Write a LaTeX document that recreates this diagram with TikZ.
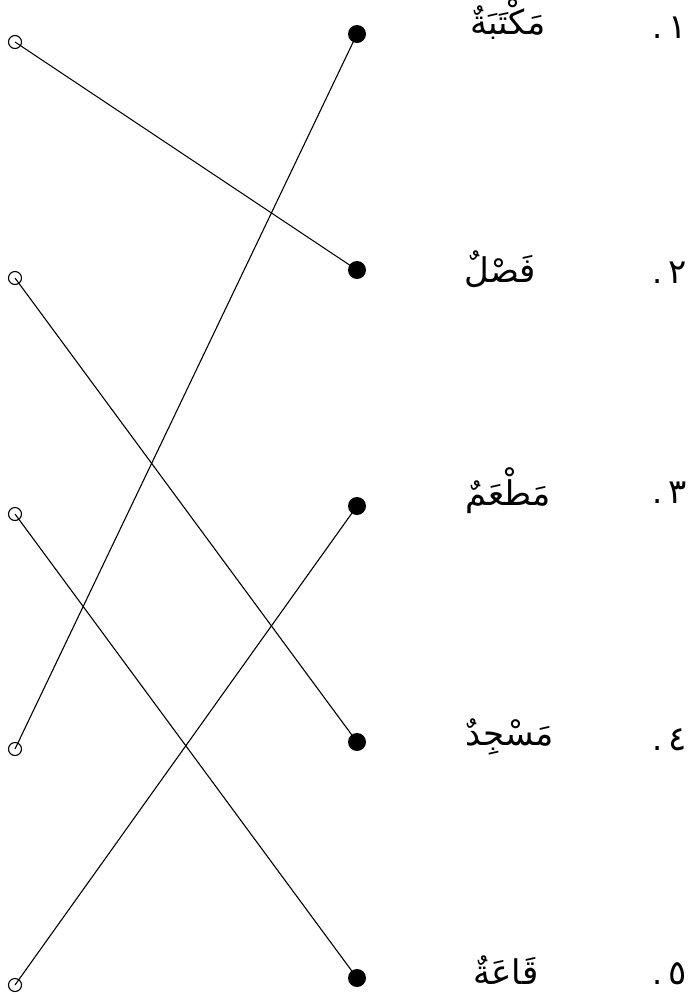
\documentclass[tikz,border=0pt]{standalone}
\usepackage{fontspec}
\newfontfamily\arabicfont[Script=Arabic]{DejaVu Sans}
\TeXXeTstate=1
\begin{document}
\begin{tikzpicture}[x=1pt,y=-1pt,
  opendot/.style={circle,draw,line width=1.1pt,minimum size=13pt,inner sep=0pt},
  filldot/.style={circle,fill,minimum size=18pt,inner sep=0pt},
  link/.style={line width=1.1pt},
  word/.style={font=\arabicfont\fontsize{34}{40}\selectfont,anchor=base,inner sep=0pt},
  num/.style={font=\arabicfont\fontsize{34}{40}\selectfont,anchor=base,inner sep=0pt},
  stop/.style={font=\arabicfont\fontsize{32}{36}\selectfont,anchor=base,inner sep=0pt}]
\useasboundingbox (0,0) rectangle (689,994);
% left open circles
\foreach \i/\y in {1/42,2/278,3/514,4/749,5/985}
  \node[opendot] (L\i) at (15,\y) {};
% right filled circles
\foreach \i/\y in {1/34,2/270,3/506,4/742,5/978}
  \node[filldot] (R\i) at (357,\y) {};
% links
\draw[link] (L1.center) -- (R2.center);
\draw[link] (L4.center) -- (R1.center);
\draw[link] (L2.center) -- (R4.center);
\draw[link] (L5.center) -- (R3.center);
\draw[link] (L3.center) -- (R5.center);
% words
\node[word] (W1) at (508,34) {\beginR مَكْتَبَةٌ\endR};
\node[word] (W2) at (500,282) {\beginR فَصْلٌ\endR};
\node[word] (W3) at (508,505) {\beginR مَطْعَمٌ\endR};
\node[word] (W4) at (510,745) {\beginR مَسْجِدٌ\endR};
\node[word] (W5) at (506,984) {\beginR قَاعَةٌ\endR};
% numbers and dots
\foreach \i/\d/\y in {1/١/38,2/٢/283,3/٣/503,4/٤/750,5/٥/984}{
  \node[num] (N\i) at (678,\y) {\beginR\d\endR};
  \node[stop] (P\i) at (658,\y) {.};
}
\end{tikzpicture}
\end{document}
